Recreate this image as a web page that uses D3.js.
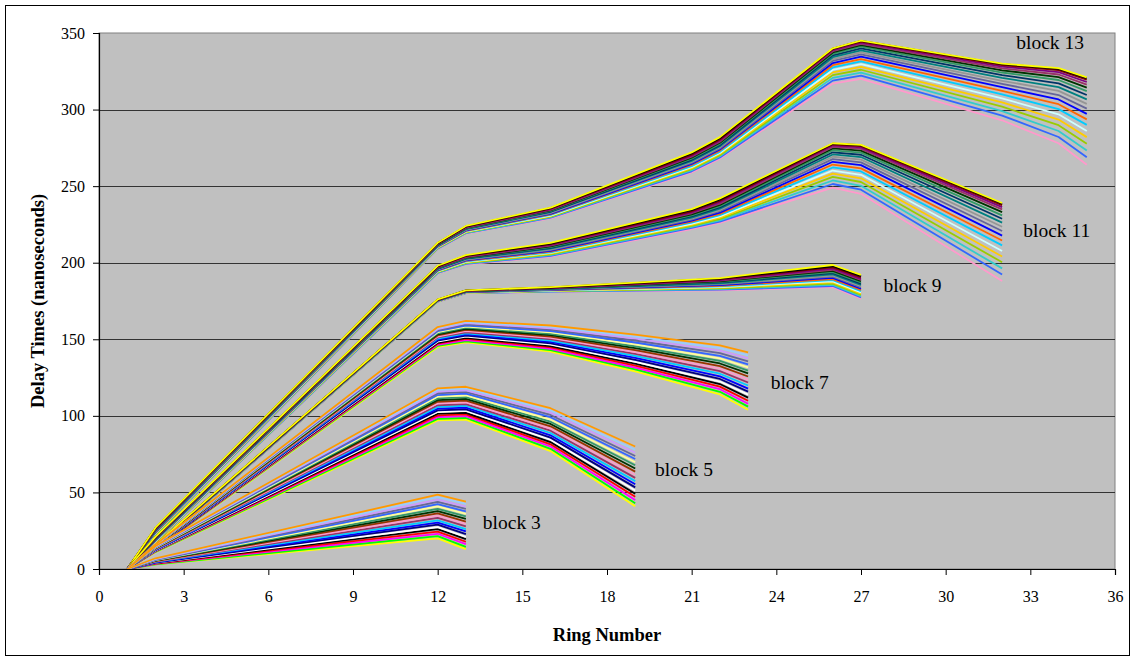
<!DOCTYPE html>
<html>
<head>
<meta charset="utf-8">
<script src="https://cdn.jsdelivr.net/npm/d3@7"></script>
<style>
  body { margin: 0; background: #fff; }
  text { font-family: "Liberation Serif", "Times New Roman", serif; }
</style>
</head>
<body>
<script>
// ring numbers where each block's curves have values (ring 1 is always 0)
const rings3 = [1, 2, 12, 13];
const rings5 = [1, 2, 12, 13, 16, 19];
const rings7 = [1, 2, 12, 13, 16, 19, 22, 23];
const rings9 = [1, 2, 12, 13, 16, 22, 26, 27];
const rings11 = [1, 2, 12, 13, 16, 21, 22, 26, 27, 32];
const rings13 = [1, 2, 12, 13, 16, 21, 22, 26, 27, 32, 34, 35];

// delay times (ns), one row per series, lowest curve first
const block3 = [
  [0, 3, 20, 13], [0, 3, 21.5, 14.5], [0, 3.4, 23, 16.2], [0, 3.6, 24.4, 17.8],
  [0, 3.8, 26, 19.5], [0, 4, 27.4, 21], [0, 4.2, 29, 22.8], [0, 4.4, 30.3, 24.5],
  [0, 4.6, 31.8, 26], [0, 4.8, 33.4, 27.8], [0, 5, 34.8, 29.5], [0, 5.2, 36.3, 31],
  [0, 5.4, 37.8, 32.8], [0, 5.6, 39.3, 34.4], [0, 5.8, 40.9, 36], [0, 6, 42.3, 37.6],
  [0, 6.2, 43.8, 39.2], [0, 6.4, 45.3, 40.8], [0, 6.7, 46.9, 42.5], [0, 7, 48.5, 44]
];
const block5 = [
  [0, 11, 97, 97.5, 77, 41], [0, 11.2, 98, 98.6, 78.5, 43], [0, 11.4, 99.2, 99.8, 80, 45],
  [0, 11.6, 100.3, 101, 81.4, 47.2], [0, 11.8, 101.4, 102, 82.9, 49.2], [0, 12, 102.5, 103.2, 84.4, 51.3],
  [0, 12.3, 103.6, 104.3, 85.8, 53.3], [0, 12.5, 104.7, 105.4, 87.3, 55.4], [0, 12.7, 105.8, 106.6, 88.8, 57.4],
  [0, 12.9, 106.9, 107.7, 90.3, 59.5], [0, 13.1, 108.1, 108.8, 91.7, 61.5], [0, 13.3, 109.2, 110, 93.2, 63.6],
  [0, 13.5, 110.3, 111.1, 94.7, 65.6], [0, 13.7, 111.4, 112.2, 96.2, 67.7], [0, 13.9, 112.5, 113.3, 97.6, 69.7],
  [0, 14.2, 113.6, 114.5, 99.1, 71.8], [0, 14.4, 114.7, 115.6, 100.6, 73.8], [0, 14.6, 115.8, 116.7, 102.1, 75.9],
  [0, 14.8, 116.9, 117.9, 103.5, 77.9], [0, 15, 118, 119, 105, 80]
];
const block7 = [
  [0, 13, 145, 148, 142, 129, 114, 104], [0, 13.2, 145.7, 148.7, 142.9, 130.3, 115.7, 106],
  [0, 13.3, 146.4, 149.5, 143.8, 131.5, 117.4, 107.9], [0, 13.5, 147.1, 150.2, 144.7, 132.8, 119.1, 109.9],
  [0, 13.6, 147.7, 151, 145.6, 134.1, 120.8, 111.9], [0, 13.8, 148.4, 151.7, 146.5, 135.3, 122.4, 113.9],
  [0, 13.9, 149.1, 152.4, 147.4, 136.6, 124.1, 115.8], [0, 14.1, 149.8, 153.2, 148.3, 137.8, 125.8, 117.8],
  [0, 14.3, 150.5, 153.9, 149.2, 139.1, 127.5, 119.8], [0, 14.4, 151.2, 154.6, 150.1, 140.4, 129.2, 121.8],
  [0, 14.6, 151.8, 155.4, 150.9, 141.6, 130.8, 123.7], [0, 14.7, 152.5, 156.1, 151.8, 142.9, 132.5, 125.7],
  [0, 14.9, 153.2, 156.8, 152.7, 144.2, 134.2, 127.7], [0, 15.1, 153.9, 157.6, 153.6, 145.4, 135.9, 129.6],
  [0, 15.2, 154.6, 158.3, 154.5, 146.7, 137.6, 131.6], [0, 15.4, 155.3, 159, 155.4, 147.9, 139.2, 133.6],
  [0, 15.5, 155.9, 159.8, 156.3, 149.2, 140.9, 135.6], [0, 15.7, 156.6, 160.5, 157.2, 150.5, 142.6, 137.6],
  [0, 15.8, 157.3, 161.3, 158.1, 151.7, 144.3, 139.5], [0, 16, 158, 162, 159, 153, 146, 141.5]
];
const block9 = [
  [0, 14, 174.5, 180, 181, 182, 184, 176.5], [0, 14.1, 174.6, 180.1, 181.2, 182.4, 184.8, 177.3],
  [0, 14.2, 174.7, 180.2, 181.3, 182.8, 185.5, 178.1], [0, 14.3, 174.7, 180.3, 181.5, 183.3, 186.3, 179],
  [0, 14.4, 174.8, 180.4, 181.6, 183.7, 187.1, 179.8], [0, 14.5, 174.9, 180.5, 181.8, 184.1, 187.8, 180.6],
  [0, 14.6, 175, 180.6, 181.9, 184.5, 188.6, 181.4], [0, 14.7, 175.1, 180.7, 182.1, 184.9, 189.3, 182.2],
  [0, 14.8, 175.1, 180.8, 182.3, 185.4, 190.1, 183], [0, 14.9, 175.2, 180.9, 182.4, 185.8, 190.9, 183.8],
  [0, 15.1, 175.3, 181.1, 182.6, 186.2, 191.6, 184.7], [0, 15.2, 175.4, 181.2, 182.7, 186.6, 192.4, 185.5],
  [0, 15.3, 175.4, 181.3, 182.9, 187.1, 193.2, 186.3], [0, 15.4, 175.5, 181.4, 183.1, 187.5, 193.9, 187.1],
  [0, 15.5, 175.6, 181.5, 183.2, 187.9, 194.7, 187.9], [0, 15.6, 175.7, 181.6, 183.4, 188.3, 195.4, 188.7],
  [0, 15.7, 175.8, 181.7, 183.5, 188.7, 196.2, 189.5], [0, 15.8, 175.8, 181.8, 183.7, 189.2, 197, 190.4],
  [0, 15.9, 175.9, 181.9, 183.8, 189.6, 197.7, 191.2], [0, 16, 176, 182, 184, 190, 198.5, 192]
];
const block11 = [
  [0, 17, 193, 199, 204, 222, 226, 249, 245, 188],
  [0, 17.2, 193.3, 199.3, 204.5, 222.7, 226.8, 251.4, 247.7, 192.3],
  [0, 17.4, 193.5, 199.6, 204.9, 223.4, 227.7, 253.7, 250.2, 196.3],
  [0, 17.6, 193.8, 199.9, 205.4, 224.1, 228.5, 256, 252.7, 200.3],
  [0, 17.8, 194.1, 200.3, 205.9, 224.7, 229.4, 258.2, 255.1, 204.1],
  [0, 18.1, 194.3, 200.6, 206.4, 225.4, 230.2, 260.2, 257.4, 207.7],
  [0, 18.3, 194.6, 200.9, 206.8, 226.1, 231.1, 262.2, 259.6, 211.3],
  [0, 18.5, 194.8, 201.2, 207.3, 226.8, 231.9, 264.1, 261.6, 214.5],
  [0, 18.7, 195.1, 201.5, 207.8, 227.5, 232.7, 265.9, 263.7, 217.7],
  [0, 18.9, 195.4, 201.8, 208.3, 228.2, 233.6, 267.6, 265.5, 220.7],
  [0, 19.1, 195.6, 202.2, 208.7, 228.8, 234.4, 269.2, 267.3, 223.5],
  [0, 19.3, 195.9, 202.5, 209.2, 229.5, 235.3, 270.7, 269, 226.2],
  [0, 19.5, 196.2, 202.8, 209.7, 230.2, 236.1, 272.1, 270.5, 228.7],
  [0, 19.7, 196.4, 203.1, 210.2, 230.9, 236.9, 273.4, 271.9, 230.9],
  [0, 19.9, 196.7, 203.4, 210.6, 231.6, 237.8, 274.6, 273.2, 233],
  [0, 20.2, 196.9, 203.7, 211.1, 232.3, 238.6, 275.6, 274.3, 234.8],
  [0, 20.4, 197.2, 204.1, 211.6, 232.9, 239.5, 276.5, 275.3, 236.3],
  [0, 20.6, 197.5, 204.4, 212.1, 233.6, 240.3, 277.2, 276.1, 237.6],
  [0, 20.8, 197.7, 204.7, 212.5, 234.3, 241.2, 277.7, 276.7, 238.5],
  [0, 21, 198, 205, 213, 235, 242, 278, 277, 239]
];
const block13 = [
  [0, 22, 209, 219, 229, 259, 268, 317, 320, 293, 278, 264],
  [0, 22.3, 209.2, 219.3, 229.4, 259.7, 268.7, 318.9, 322.1, 296.1, 282.1, 268.8],
  [0, 22.5, 209.4, 219.5, 229.7, 260.4, 269.5, 320.7, 324.1, 299, 286, 273.3],
  [0, 22.8, 209.6, 219.8, 230.1, 261.1, 270.2, 322.5, 326, 301.9, 289.8, 277.7],
  [0, 23.1, 209.8, 220.1, 230.5, 261.7, 271, 324.3, 327.9, 304.7, 293.5, 282],
  [0, 23.3, 210.1, 220.3, 230.8, 262.4, 271.7, 325.9, 329.7, 307.3, 296.9, 286],
  [0, 23.6, 210.3, 220.6, 231.2, 263.1, 272.4, 327.5, 331.4, 309.9, 300.3, 290],
  [0, 23.8, 210.5, 220.8, 231.6, 263.8, 273.2, 329, 333, 312.2, 303.5, 293.6],
  [0, 24.1, 210.7, 221.1, 231.9, 264.5, 273.9, 330.4, 334.6, 314.6, 306.6, 297.2],
  [0, 24.4, 210.9, 221.4, 232.3, 265.2, 274.6, 331.8, 336.1, 316.8, 309.5, 300.6],
  [0, 24.6, 211.1, 221.6, 232.7, 265.8, 275.4, 333, 337.4, 318.8, 312.2, 303.7],
  [0, 24.9, 211.3, 221.9, 233.1, 266.5, 276.1, 334.2, 338.7, 320.7, 314.7, 306.7],
  [0, 25.2, 211.5, 222.2, 233.4, 267.2, 276.8, 335.4, 340, 322.5, 317.1, 309.5],
  [0, 25.4, 211.7, 222.4, 233.8, 267.9, 277.6, 336.4, 341.1, 324.2, 319.3, 312],
  [0, 25.7, 211.9, 222.7, 234.2, 268.6, 278.3, 337.3, 342.1, 325.6, 321.2, 314.3],
  [0, 25.9, 212.2, 222.9, 234.5, 269.3, 279, 338.1, 342.9, 326.9, 322.9, 316.3],
  [0, 26.2, 212.4, 223.2, 234.9, 269.9, 279.8, 338.8, 343.7, 328.1, 324.5, 318],
  [0, 26.5, 212.6, 223.5, 235.3, 270.6, 280.5, 339.4, 344.3, 329, 325.7, 319.5],
  [0, 26.7, 212.8, 223.7, 235.6, 271.3, 281.3, 339.8, 344.8, 329.7, 326.6, 320.5],
  [0, 27, 213, 224, 236, 272, 282, 340, 345, 330, 327, 321]
];

// block label text and where it sits (ring, delay)
const labelText = ["block 3", "block 5", "block 7", "block 9", "block 11", "block 13"];
const labelRing = [13.6, 19.7, 23.8, 27.8, 32.75, 32.5];
const labelDelay = [26, 60.7, 117.5, 181, 217, 339.4];

const xTicks = [0, 3, 6, 9, 12, 15, 18, 21, 24, 27, 30, 33, 36];
const yTicks = [0, 50, 100, 150, 200, 250, 300, 350];

// series colours, lowest curve first
const paletteLow = ["#FFFF00", "#00FF00", "#FF00FF", "#FF0000", "#000000", "#FFFFFF", "#000080", "#0000FF",
  "#00CCFF", "#993366", "#FF99CC", "#993300", "#003300", "#339966", "#FFFF99", "#3366FF", "#666699",
  "#CC99FF", "#99CCFF", "#FF9900"];
const paletteHigh = ["#FF99CC", "#3366FF", "#33CCCC", "#99CC00", "#FFCC00", "#CCFFFF", "#00CCFF", "#FF6600",
  "#0000FF", "#666699", "#969696", "#008080", "#003366", "#339966", "#003300", "#993366", "#800080",
  "#800000", "#000000", "#FFFF00"];

const blocks = [
  { rings: rings13, rows: block13, colors: paletteHigh },
  { rings: rings11, rows: block11, colors: paletteHigh },
  { rings: rings9, rows: block9, colors: paletteHigh },
  { rings: rings7, rows: block7, colors: paletteLow },
  { rings: rings5, rows: block5, colors: paletteLow },
  { rings: rings3, rows: block3, colors: paletteLow }
];

const width = 1141;
const height = 660;

const x = d3.scaleLinear().domain([0, 36]).range([99, 1115]);
const y = d3.scaleLinear().domain([0, 350]).range([569, 33]);

const svg = d3.select("body").append("svg")
  .attr("width", width)
  .attr("height", height)
  .attr("viewBox", [0, 0, width, height]);

// chart border
svg.append("rect")
  .attr("x", 5.5).attr("y", 5.5)
  .attr("width", 1124).attr("height", 650)
  .attr("fill", "#fff")
  .attr("stroke", "#000")
  .attr("stroke-width", 1);

// plot area
svg.append("rect")
  .attr("x", x(0)).attr("y", y(350))
  .attr("width", x(36) - x(0)).attr("height", y(0) - y(350))
  .attr("fill", "#C0C0C0")
  .attr("stroke", "#808080")
  .attr("stroke-width", 1);

svg.append("g")
  .selectAll("line")
  .data(yTicks.filter(d => d > 0 && d < 350))
  .enter()
  .append("line")
  .attr("x1", x(0)).attr("x2", x(36))
  .attr("y1", d => Math.round(y(d)) + 0.5)
  .attr("y2", d => Math.round(y(d)) + 0.5)
  .attr("stroke", "#333")
  .attr("stroke-width", 1.2);

const line = d3.line()
  .x(d => x(d[0]))
  .y(d => y(d[1]));

blocks.forEach(b => {
  svg.append("g")
    .attr("fill", "none")
    .selectAll("path")
    .data(b.rows)
    .enter()
    .append("path")
    .attr("d", row => line(row.map((v, i) => [b.rings[i], v])))
    .attr("stroke", (row, i) => b.colors[i % b.colors.length])
    .attr("stroke-width", 1.8)
    .attr("stroke-linejoin", "round");
});

// axes
const xAxis = svg.append("g")
  .attr("transform", `translate(0,${y(0)})`)
  .call(d3.axisBottom(x).tickValues(xTicks).tickSize(6).tickPadding(16));
const yAxis = svg.append("g")
  .attr("transform", `translate(${x(0)},0)`)
  .call(d3.axisLeft(y).tickValues(yTicks).tickSize(6).tickPadding(8));

[xAxis, yAxis].forEach(g => {
  g.selectAll("path.domain").attr("stroke", "#000").attr("stroke-width", 1.2);
  g.selectAll(".tick line").attr("stroke", "#000");
  g.selectAll(".tick text")
    .attr("font-family", "Liberation Serif, Times New Roman, serif")
    .attr("font-size", 16)
    .attr("fill", "#000");
});

// block labels
svg.append("g")
  .selectAll("text")
  .data(labelText)
  .enter()
  .append("text")
  .attr("x", (d, i) => x(labelRing[i]))
  .attr("y", (d, i) => y(labelDelay[i]))
  .attr("font-size", 19.5)
  .attr("fill", "#000")
  .text(d => d);

// axis titles
svg.append("text")
  .attr("x", (x(0) + x(36)) / 2)
  .attr("y", 641)
  .attr("text-anchor", "middle")
  .attr("font-size", 18.5)
  .attr("font-weight", "bold")
  .text("Ring Number");

svg.append("text")
  .attr("transform", `translate(44,${(y(0) + y(350)) / 2}) rotate(-90)`)
  .attr("text-anchor", "middle")
  .attr("font-size", 18.5)
  .attr("font-weight", "bold")
  .text("Delay Times (nanoseconds)");
</script>
</body>
</html>
